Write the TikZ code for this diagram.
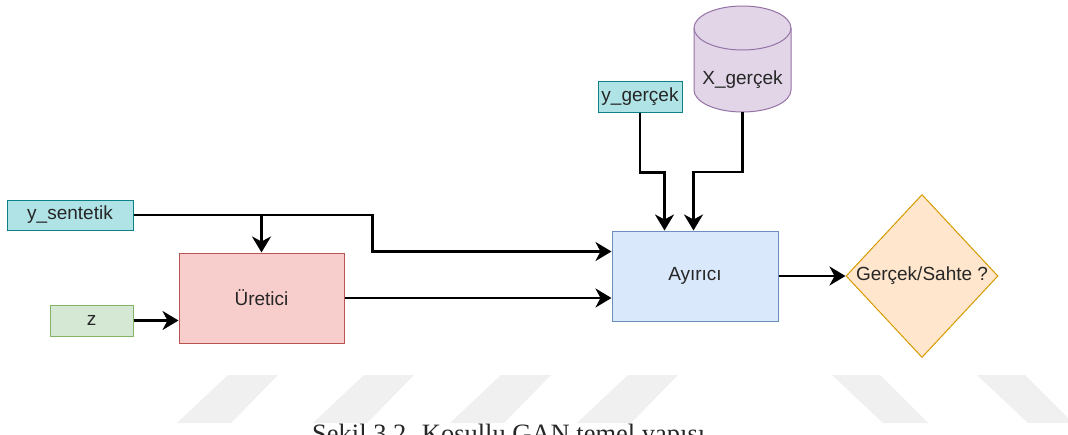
\documentclass[tikz,border=0pt]{standalone}
\usepackage{fontspec}
\setmainfont{Liberation Sans}
\newfontfamily\capfont{Liberation Serif}
\usepackage{tikz}
\usetikzlibrary{arrows.meta, shapes.geometric, calc}
\definecolor{cyanf}{HTML}{B0E3E6}\definecolor{cyand}{HTML}{0E8088}
\definecolor{greenf}{HTML}{D5E8D4}\definecolor{greend}{HTML}{82B366}
\definecolor{redf}{HTML}{F8CECC}\definecolor{redd}{HTML}{B85450}
\definecolor{bluef}{HTML}{DAE8FC}\definecolor{blued}{HTML}{6C8EBF}
\definecolor{orangef}{HTML}{FFE6CC}\definecolor{oranged}{HTML}{D79B00}
\definecolor{purplef}{HTML}{E1D5E7}\definecolor{purpled}{HTML}{9673A6}

\begin{document}
\begin{tikzpicture}[x=1pt, y=-1pt, font=\fontsize{19}{22}\selectfont,
  every node/.append style={text=black!85},
  box/.style = {draw, line width=1pt, inner sep=0pt},
  arr/.style = {line width=2.5pt, -{Stealth[length=16pt, width=19pt, inset=5pt]}}]
\useasboundingbox (0,0) rectangle (1068,434);
\fill[white] (0,0) rectangle (1068,434);
% faint stripes and the caption along the bottom edge
\foreach \bx in {177,313,450,577}
  \fill[black!6] (\bx,423) -- (\bx+54,423) -- (\bx+101,375) -- (\bx+51,375) -- cycle;
\foreach \tx in {832,977}
  \fill[black!6] (\tx,375) -- (\tx+48,375) -- (\tx+96,423) -- (\tx+51,423) -- cycle;
\node[anchor=base west, inner sep=0pt, font=\capfont\fontsize{26.5}{30}\selectfont] (cap) at (312,442) {Şekil 3.2. Koşullu GAN temel yapısı};

\node[box, fill=cyanf, draw=cyand, minimum width=126pt, minimum height=30pt] (ysent) at (70,215) {y\_sentetik};
\node[box, fill=greenf, draw=greend, minimum width=83pt, minimum height=31pt] (z) at (91.5,320.5) {z};
\node[box, fill=redf, draw=redd, minimum width=165pt, minimum height=90pt] (uret) at (261.5,298) {Üretici};
\node[box, fill=bluef, draw=blued, minimum width=166pt, minimum height=90pt] (ayir) at (695,276) {Ayırıcı};
\node[box, diamond, aspect=0.93, fill=orangef, draw=oranged, minimum width=152pt, minimum height=163pt] (karar) at (922,276) {Gerçek/Sahte ?};
\node[box, fill=cyanf, draw=cyand, minimum width=84pt, minimum height=31pt] (ygerc) at (640,96.5) {y\_gerçek};

% the data store: a cylinder drawn round an empty node
\node[minimum width=97pt, minimum height=106pt, inner sep=0pt] (xgerc) at (742.5,59) {};
\begin{scope}[shift={(xgerc.center)}]
\filldraw[fill=purplef, draw=purpled, line width=1pt] (-48.5,-31) -- (-48.5,31)
  arc[start angle=180, end angle=360, x radius=48.5pt, y radius=22pt] -- (48.5,-31)
  arc[start angle=0, end angle=180, x radius=48.5pt, y radius=22pt] -- cycle;
\draw[purpled, line width=1pt] (-48.5,-31) arc[start angle=180, end angle=360, x radius=48.5pt, y radius=22pt];
\end{scope}
\node (xtext) at ([yshift=-21pt]xgerc.center) {X\_gerçek};

\draw[arr] (ysent.east) -- ++(239pt,0) |- ([yshift=-21pt]ayir.north west);
\draw[arr] (ysent.east -| uret.north) -- (uret.north);
\draw[arr] (z.east) -- (uret.west |- z.east);
\draw[arr] (uret.east) -- (ayir.west |- uret.east);
\draw[arr] (ayir.east) -- (karar.west);
\draw[arr] (ygerc.south) -- ++(0,60) -| ([xshift=53pt]ayir.north west);
\draw[arr] (xgerc.south) -- ++(0,60) -| ([xshift=82pt]ayir.north west);
\end{tikzpicture}
\end{document}
